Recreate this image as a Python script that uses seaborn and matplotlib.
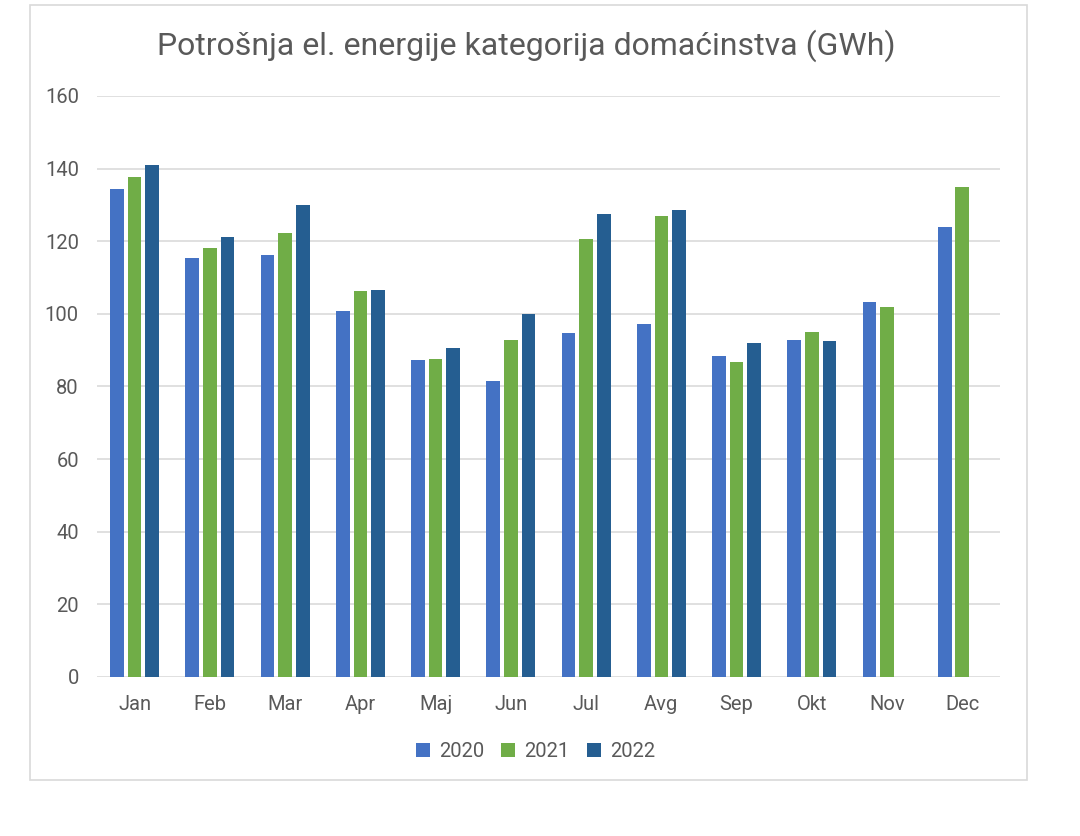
import numpy as np
import pandas as pd
from matplotlib import pyplot as plt
from matplotlib.patches import Rectangle
import seaborn as sns

# Data (GWh)
months = ["Jan", "Feb", "Mar", "Apr", "Maj", "Jun", "Jul", "Avg", "Sep", "Okt", "Nov", "Dec"]
years = ["2020", "2021", "2022"]
y2020 = [134.4, 115.3, 116.2, 100.9, 87.4, 81.5, 94.8, 97.2, 88.5, 92.7, 103.2, 124.0]
y2021 = [137.8, 118.2, 122.4, 106.4, 87.7, 92.7, 120.5, 127.0, 86.7, 95.1, 102.0, 134.9]
y2022 = [141.1, 121.3, 130.0, 106.7, 90.7, 100.0, 127.6, 128.7, 92.1, 92.4, np.nan, np.nan]
colors = ["#4472C4", "#70AD47", "#255E91"]

df = pd.DataFrame({"Mjesec": months, "2020": y2020, "2021": y2021, "2022": y2022})
df = df.melt(id_vars="Mjesec", var_name="Godina", value_name="GWh")

sns.set_theme(style="white")
plt.rcParams['font.family'] = ['Roboto', 'DejaVu Sans']
text_col = "#595959"

fig = plt.figure(figsize=(10.8, 8.36), dpi=100)
ax = fig.add_axes([0.0898, 0.1902, 0.8361, 0.695])

sns.barplot(data=df, x="Mjesec", y="GWh", hue="Godina", order=months, hue_order=years,
            palette=colors, width=0.7, gap=0.22, saturation=1, linewidth=0,
            ax=ax, errorbar=None)

ax.set_ylim(0, 160)
ax.set_yticks(range(0, 161, 20))
ax.set_xlim(-0.5, 11.5)
ax.grid(axis="y", color="#DDDDDD", linewidth=1.3)
ax.set_axisbelow(True)
for s in ax.spines.values():
    s.set_visible(False)
ax.set_xlabel("")
ax.set_ylabel("")
ax.tick_params(axis="both", colors=text_col, labelsize=14.5, length=0)
ax.tick_params(axis="y", pad=13)
ax.tick_params(axis="x", pad=13)

ax.legend(loc="upper center", bbox_to_anchor=(0.4855, -0.08), ncol=3, frameon=False,
          fontsize=14.5, labelcolor=text_col, handlelength=0.7, handleheight=0.7,
          handletextpad=0.45, columnspacing=0.85)

fig.text(0.487, 0.945, "Potrošnja el. energije kategorija domaćinstva (GWh)",
         ha="center", va="center", fontsize=23, color=text_col)

# light frame around the chart area
fig.patches.append(Rectangle((30 / 1080, 1 - 780 / 836), 997 / 1080, 775 / 836,
                             transform=fig.transFigure, fill=False,
                             edgecolor="#D9D9D9", linewidth=1.2))

fig.savefig("out.png", dpi=100, facecolor="white")
